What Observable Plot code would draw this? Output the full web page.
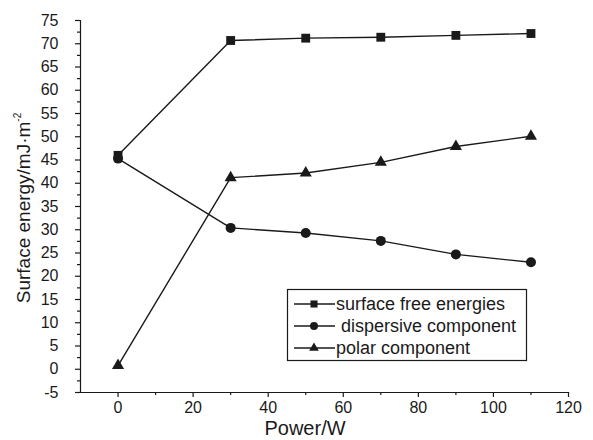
<!DOCTYPE html>
<html><head><meta charset="utf-8">
<script src="https://cdn.jsdelivr.net/npm/d3@7"></script>
<script src="https://cdn.jsdelivr.net/npm/@observablehq/plot@0.6"></script>
<style>body{margin:0;background:#fff}</style>
</head><body><div id="chart"></div>
<script>
const power = [0, 30, 50, 70, 90, 110];
const surfaceFree = [46.0, 70.7, 71.2, 71.4, 71.8, 72.2];
const dispersive = [45.3, 30.4, 29.3, 27.6, 24.7, 23.0];
const polar = [0.8, 41.2, 42.2, 44.5, 47.9, 50.1];
const seriesNames = ["surface free energies", " dispersive component", "polar component"];
const symbols = ["square", "circle", "triangle"];
const yMajor = [-5,0,5,10,15,20,25,30,35,40,45,50,55,60,65,70,75];
const yMinor = [-2.5,2.5,7.5,12.5,17.5,22.5,27.5,32.5,37.5,42.5,47.5,52.5,57.5,62.5,67.5,72.5];
const xMajor = [0,20,40,60,80,100,120];
const xMinor = [10,30,50,70,90,110];

const series = [surfaceFree, dispersive, polar];
const rows = series.flatMap((vals, i) => vals.map((v, j) => ({x: power[j], y: v, s: seriesNames[i], i})));
const ink = "#1a1a1a";
const radii = [5.0, 5.0, 4.5];
const legendRadii = [4.0, 4.0, 3.6];

const marks = [
  Plot.frame({anchor: "left", stroke: ink, strokeWidth: 1.2}),
  Plot.frame({anchor: "bottom", stroke: ink, strokeWidth: 1.2}),
  Plot.axisY({ticks: yMajor, tickSize: 5, tickPadding: 17, tickFormat: d => String(d), label: null, fontSize: 16, stroke: ink, strokeWidth: 1.2}),
  Plot.axisY({ticks: yMinor, tickSize: 3, text: null, label: null, stroke: ink, strokeWidth: 1.2}),
  Plot.axisX({ticks: xMajor, tickSize: 5, tickPadding: 4, tickFormat: d => String(d), label: null, fontSize: 16, stroke: ink, strokeWidth: 1.2}),
  Plot.axisX({ticks: xMinor, tickSize: 3, text: null, label: null, stroke: ink, strokeWidth: 1.2})
];
series.forEach((vals, i) => {
  const d = rows.filter(r => r.i === i);
  marks.push(Plot.line(d, {x: "x", y: "y", stroke: ink, strokeWidth: 1.4}));
  marks.push(Plot.dot(d, {x: "x", y: "y", symbol: () => symbols[i], r: radii[i], fill: ink, stroke: "none"}));
});

const plot = Plot.plot({
  width: 593, height: 440,
  marginLeft: 80, marginRight: 25, marginTop: 20, marginBottom: 48,
  style: {fontFamily: "'Liberation Sans', Arial, sans-serif", fontSize: "16px", color: ink, background: "#fff"},
  x: {domain: [-10, 120]},
  y: {domain: [-5, 75]},
  marks
});
document.getElementById("chart").appendChild(plot);

const svg = d3.select(plot);
const font = "'Liberation Sans', Arial, sans-serif";
// axis titles
const yl = svg.append("text").attr("transform", "translate(30,208) rotate(-90)")
  .attr("text-anchor", "middle").attr("font-family", font).attr("font-size", 19).attr("fill", ink);
yl.append("tspan").text("Surface energy/mJ·m");
yl.append("tspan").attr("font-size", 10).attr("dy", -9).text("-2");
svg.append("text").attr("x", 305).attr("y", 435).attr("text-anchor", "middle")
  .attr("font-family", font).attr("font-size", 20).attr("fill", ink).text("Power/W");

// legend
const lg = svg.append("g").attr("text-anchor", "start");
lg.append("rect").attr("x", 287.5).attr("y", 289.5).attr("width", 239).attr("height", 71)
  .attr("fill", "#fff").attr("stroke", ink).attr("stroke-width", 1.2);
const symGen = [d3.symbolSquare, d3.symbolCircle, d3.symbolTriangle];
seriesNames.forEach((name, i) => {
  const cy = 304 + i * 22;
  lg.append("line").attr("x1", 294).attr("x2", 335).attr("y1", cy).attr("y2", cy).attr("stroke", ink).attr("stroke-width", 1.3);
  lg.append("path").attr("transform", `translate(314,${cy})`)
    .attr("d", d3.symbol(symGen[i], Math.PI * legendRadii[i] * legendRadii[i])()).attr("fill", ink);
  lg.append("text").attr("x", 336).attr("y", cy).attr("dy", "0.35em").attr("font-family", font)
    .attr("text-anchor", "start").attr("font-size", 18).attr("fill", ink)
    .style("white-space", "pre").text(name);
});
</script>
</body></html>
